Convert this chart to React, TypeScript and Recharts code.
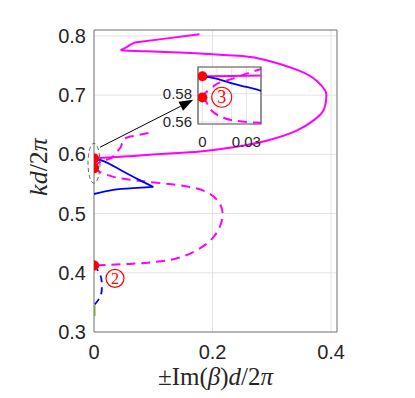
import {
  ComposedChart, Line, Scatter, XAxis, YAxis, CartesianGrid, ReferenceArea, ReferenceDot, ReferenceLine, Label,
} from "recharts";

// main axes
const xTicks = [0, 0.2, 0.4];
const yTicks = [0.3, 0.4, 0.5, 0.6, 0.7, 0.8];
const xDomain = [0, 0.41];
const yDomain = [0.3, 0.81];

// solid magenta (upper branch)
const magTop = [
  { x: 0.178, y: 0.803 }, { x: 0.117, y: 0.795 }, { x: 0.069, y: 0.789 }, { x: 0.061, y: 0.785 },
  { x: 0.055, y: 0.781 }, { x: 0.045, y: 0.776 },
];
const magLoop = [
  { x: 0.045, y: 0.776 }, { x: 0.089, y: 0.774 }, { x: 0.145, y: 0.772 }, { x: 0.2, y: 0.769 },
  { x: 0.25, y: 0.766 }, { x: 0.291, y: 0.759 }, { x: 0.347, y: 0.741 }, { x: 0.376, y: 0.724 },
  { x: 0.39, y: 0.708 }, { x: 0.392, y: 0.696 }, { x: 0.387, y: 0.674 }, { x: 0.37, y: 0.657 },
  { x: 0.342, y: 0.64 }, { x: 0.291, y: 0.623 }, { x: 0.235, y: 0.612 }, { x: 0.179, y: 0.605 },
  { x: 0.12, y: 0.601 }, { x: 0.061, y: 0.597 }, { x: 0.01, y: 0.594 }, { x: 0, y: 0.593 },
];
// dashed magenta
const magDashUp = [
  { x: 0, y: 0.577 }, { x: 0.0016, y: 0.58 }, { x: 0.0084, y: 0.5858 }, { x: 0.0129, y: 0.5882 },
  { x: 0.0208, y: 0.5906 }, { x: 0.03, y: 0.5941 }, { x: 0.038, y: 0.603 }, { x: 0.045, y: 0.612 },
  { x: 0.048, y: 0.62 }, { x: 0.052, y: 0.627 }, { x: 0.061, y: 0.63 }, { x: 0.092, y: 0.636 },
];
const magDashLoop = [
  { x: 0, y: 0.577 }, { x: 0.01, y: 0.57 }, { x: 0.033, y: 0.562 }, { x: 0.061, y: 0.557 },
  { x: 0.106, y: 0.552 }, { x: 0.162, y: 0.545 }, { x: 0.196, y: 0.533 }, { x: 0.212, y: 0.517 },
  { x: 0.217, y: 0.5 }, { x: 0.212, y: 0.477 }, { x: 0.19, y: 0.449 }, { x: 0.145, y: 0.426 },
  { x: 0.1, y: 0.418 }, { x: 0.061, y: 0.415 }, { x: 0, y: 0.4125 },
];
// blue
const blueA = [
  { x: 0, y: 0.593 }, { x: 0.02, y: 0.587 }, { x: 0.044, y: 0.574 }, { x: 0.078, y: 0.556 }, { x: 0.1, y: 0.545 },
];
const blueB = [
  { x: 0.1, y: 0.545 }, { x: 0.066, y: 0.543 }, { x: 0.032, y: 0.54 }, { x: 0, y: 0.533 },
];
const blueDash = [
  { x: 0, y: 0.4125 }, { x: 0.0045, y: 0.407 }, { x: 0.011, y: 0.395 }, { x: 0.013, y: 0.385 },
  { x: 0.013, y: 0.37 }, { x: 0.01, y: 0.359 }, { x: 0.005, y: 0.351 }, { x: 0, y: 0.345 },
];
const green = [{ x: 0, y: 0.345 }, { x: 0, y: 0.327 }];
const redDots = [{ x: 0, y: 0.593 }, { x: 0, y: 0.577 }, { x: 0, y: 0.4125 }];

// annotations
const ellipseAt = { x: 0, y: 0.585 };
const arrowFrom = { x: 0.0101, y: 0.612 };
const arrowTo = { x: 0.1675, y: 0.692 };
const mark2 = { x: 0.0354, y: 0.3906, n: "2" };

// inset
const inXTicks = [0, 0.01, 0.02, 0.03];
const inXLabels = ["0", "", "", "0.03"];
const inYTicks = [0.56, 0.58];
const inXDomain = [-0.003, 0.04];
const inYDomain = [0.5585, 0.5988];
const inMag = [{ x: 0, y: 0.5922 }, { x: 0.02, y: 0.5924 }, { x: 0.045, y: 0.5928 }];
const inBlue = [
  { x: 0, y: 0.5922 }, { x: 0.0095, y: 0.5906 }, { x: 0.0208, y: 0.587 }, { x: 0.03, y: 0.5847 },
  { x: 0.039, y: 0.5823 }, { x: 0.045, y: 0.581 },
];
const inDashUp = [
  { x: 0, y: 0.5772 }, { x: 0.0016, y: 0.58 }, { x: 0.0084, y: 0.5858 }, { x: 0.0129, y: 0.5882 },
  { x: 0.0208, y: 0.5906 }, { x: 0.03, y: 0.5941 }, { x: 0.039, y: 0.597 }, { x: 0.045, y: 0.599 },
];
const inDashDown = [
  { x: 0, y: 0.5772 }, { x: 0.0027, y: 0.5741 }, { x: 0.0061, y: 0.5682 }, { x: 0.0129, y: 0.5635 },
  { x: 0.0231, y: 0.5607 }, { x: 0.039, y: 0.5593 }, { x: 0.045, y: 0.5588 },
];
const inDots = [{ x: 0, y: 0.5922 }, { x: 0, y: 0.5772 }];
const mark3 = { x: 0.0132, y: 0.5774, n: "3" };

const MAG = "#ff00ff";
const BLUE = "#0000ff";
const RED = "#ff0000";
const AX = "#7a7a7a";
const GRID = "#e3e3e3";
const sans = "'Liberation Sans', Arial, sans-serif";
const serif = "'Liberation Serif', 'Times New Roman', serif";

const dot = (r: number) => (p: any) => <circle cx={p.cx} cy={p.cy} r={r} fill={RED} />;

const Circled = (n: string, r: number) => (p: any) => (
  <g>
    <circle cx={p.cx} cy={p.cy} r={r} fill="none" stroke={RED} strokeWidth={1.2} />
    <text x={p.cx} y={p.cy + r * 0.62} textAnchor="middle" fontFamily={serif} fontSize={r * 1.8} fill={RED}>{n}</text>
  </g>
);

const Arrow = (p: any) => {
  const { x1, y1, x2, y2 } = p;
  const a = Math.atan2(y2 - y1, x2 - x1);
  const L = 14, W = 5;
  const bx = x2 - L * Math.cos(a), by = y2 - L * Math.sin(a);
  const pts = `${x2},${y2} ${bx - W * Math.sin(a)},${by + W * Math.cos(a)} ${bx + W * Math.sin(a)},${by - W * Math.cos(a)}`;
  return (
    <g>
      <line x1={x1} y1={y1} x2={bx} y2={by} stroke="#000" strokeWidth={1} />
      <polygon points={pts} fill="#000" />
    </g>
  );
};

const XLab = ({ viewBox }: any) => (
  <text x={viewBox.x + viewBox.width / 2} y={viewBox.y + 53} textAnchor="middle" fontFamily={serif} fontSize={25} fill="#262626">
    ±Im(<tspan fontStyle="italic">β</tspan>)<tspan fontStyle="italic">d</tspan>/2<tspan fontStyle="italic">π</tspan>
  </text>
);

const YLab = ({ viewBox }: any) => {
  const x = viewBox.x + 13, y = viewBox.y + viewBox.height / 2 - 14;
  return (
    <text x={x} y={y} transform={`rotate(-90 ${x} ${y})`} textAnchor="middle" fontFamily={serif} fontSize={26} fill="#262626">
      <tspan fontStyle="italic">kd</tspan>/2<tspan fontStyle="italic">π</tspan>
    </text>
  );
};

const tickStyle = { fill: "#262626", fontSize: 20, fontFamily: sans };

export default function App() {
  return (
    <div style={{ position: "absolute", left: 0, top: 0, width: 415, height: 398, background: "#fff" }}>
      <ComposedChart width={415} height={398} margin={{ top: 30, right: 78, bottom: 36, left: 34 }}>
        <CartesianGrid stroke={GRID} />
        <XAxis type="number" dataKey="x" domain={xDomain} ticks={xTicks} allowDataOverflow height={30}
          axisLine={false} tickLine={false} tickSize={0} tickMargin={13} tick={tickStyle} interval={0}>
          <Label content={XLab} />
        </XAxis>
        <YAxis type="number" dataKey="y" domain={yDomain} ticks={yTicks} allowDataOverflow width={60}
          axisLine={false} tickLine={false} tickSize={0} tickMargin={8} tick={tickStyle} interval={0}>
          <Label content={YLab} />
        </YAxis>
        <ReferenceArea x1={xDomain[0]} x2={xDomain[1]} y1={yDomain[0]} y2={yDomain[1]} fill="none" stroke={AX} strokeWidth={1} />
        <Line data={magTop} dataKey="y" type="linear" stroke={MAG} strokeWidth={2} dot={false} isAnimationActive={false} />
        <Line data={magLoop} dataKey="y" type="natural" stroke={MAG} strokeWidth={2} dot={false} isAnimationActive={false} />
        <Line data={magDashUp} dataKey="y" type="linear" stroke={MAG} strokeWidth={2} strokeDasharray="9 6" dot={false} isAnimationActive={false} />
        <Line data={magDashLoop} dataKey="y" type="natural" stroke={MAG} strokeWidth={2} strokeDasharray="9 6" dot={false} isAnimationActive={false} />
        <Line data={blueA} dataKey="y" type="natural" stroke={BLUE} strokeWidth={1.8} dot={false} isAnimationActive={false} />
        <Line data={blueB} dataKey="y" type="natural" stroke={BLUE} strokeWidth={1.8} dot={false} isAnimationActive={false} />
        <Line data={blueDash} dataKey="y" type="natural" stroke={BLUE} strokeWidth={1.8} strokeDasharray="7 5" dot={false} isAnimationActive={false} />
        <Line data={green} dataKey="y" type="linear" stroke="#77ac30" strokeWidth={3} dot={false} isAnimationActive={false} />
        <ReferenceDot x={ellipseAt.x} y={ellipseAt.y} ifOverflow="visible"
          shape={(p: any) => <ellipse cx={p.cx} cy={p.cy} rx={6} ry={20} fill="none" stroke="#555" strokeWidth={0.9} strokeDasharray="4 3" />} />
        <ReferenceLine segment={[arrowFrom, arrowTo]} ifOverflow="visible" shape={Arrow} />
        <ReferenceDot x={mark2.x} y={mark2.y} ifOverflow="visible" shape={Circled(mark2.n, 9)} />
        <Scatter data={redDots} dataKey="y" shape={dot(5.2)} isAnimationActive={false} />
      </ComposedChart>

      <div style={{ position: "absolute", left: 158, top: 57 }}>
        <ComposedChart width={110} height={100} margin={{ top: 10, right: 7, bottom: 7, left: 4 }}>
          <CartesianGrid stroke={GRID} fill="#fff" fillOpacity={1} />
          <XAxis type="number" dataKey="x" domain={inXDomain} ticks={inXTicks} allowDataOverflow height={26}
            axisLine={false} tickLine={false} tickSize={0} tickMargin={12} interval={0}
            tick={{ ...tickStyle, fontSize: 15 }} tickFormatter={(v: number) => inXLabels[inXTicks.indexOf(v)] ?? ""} />
          <YAxis type="number" dataKey="y" domain={inYDomain} ticks={inYTicks} allowDataOverflow width={36}
            axisLine={false} tickLine={false} tickSize={0} tickMargin={6} interval={0}
            tick={{ ...tickStyle, fontSize: 15 }} tickFormatter={(v: number) => String(v)} />
          <ReferenceArea x1={inXDomain[0]} x2={inXDomain[1]} y1={inYDomain[0]} y2={inYDomain[1]} fill="none" stroke="#555" strokeWidth={1.2} />
          <Line data={inMag} dataKey="y" type="linear" stroke={MAG} strokeWidth={2} dot={false} isAnimationActive={false} />
          <Line data={inBlue} dataKey="y" type="natural" stroke={BLUE} strokeWidth={1.8} dot={false} isAnimationActive={false} />
          <Line data={inDashUp} dataKey="y" type="natural" stroke={MAG} strokeWidth={2} strokeDasharray="9 6" dot={false} isAnimationActive={false} />
          <Line data={inDashDown} dataKey="y" type="natural" stroke={MAG} strokeWidth={2} strokeDasharray="9 6" dot={false} isAnimationActive={false} />
          <ReferenceDot x={mark3.x} y={mark3.y} ifOverflow="visible" shape={Circled(mark3.n, 10)} />
          <Scatter data={inDots} dataKey="y" shape={dot(5)} isAnimationActive={false} />
        </ComposedChart>
      </div>
    </div>
  );
}
